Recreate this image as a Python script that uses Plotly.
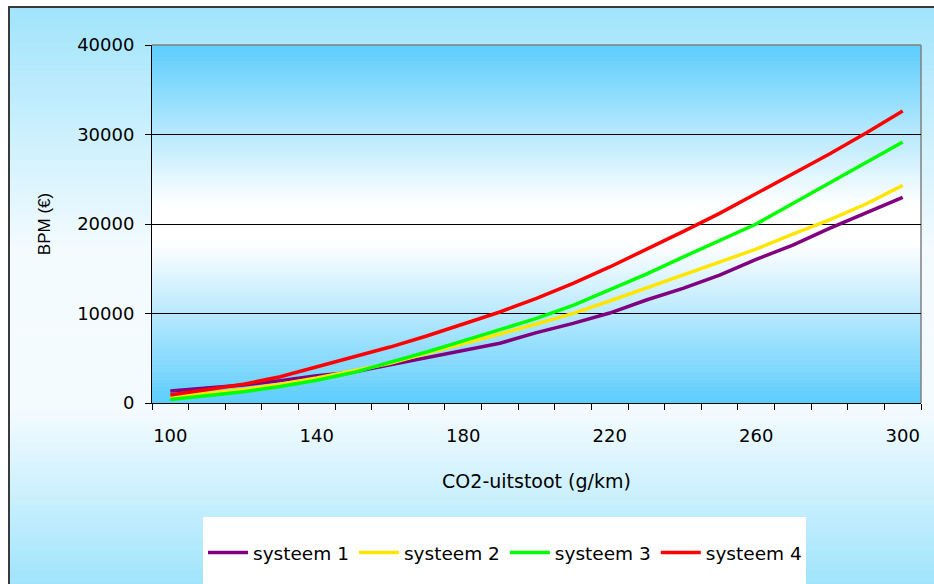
import plotly.graph_objects as go

# ---------------- data ----------------
co2 = [100, 110, 120, 130, 140, 150, 160, 170, 180, 190, 200,
       210, 220, 230, 240, 250, 260, 270, 280, 290, 300]
systeem_1 = [1340, 1650, 2000, 2500, 3050, 3450, 4250, 4990, 5850, 6670, 7860,
             8900, 10050, 11510, 12810, 14300, 16050, 17650, 19520, 21270, 22980]
systeem_2 = [650, 1050, 1500, 2100, 2800, 3600, 4430, 5550, 6590, 7710, 8830,
             10020, 11400, 12850, 14300, 15750, 17200, 18880, 20450, 22230, 24320]
systeem_3 = [400, 800, 1250, 1850, 2550, 3400, 4500, 5700, 6950, 8200, 9450,
             10900, 12650, 14400, 16300, 18170, 20000, 22300, 24600, 26870, 29160]
systeem_4 = [900, 1450, 2090, 2940, 4060, 5100, 6250, 7490, 8860, 10170, 11690,
             13370, 15200, 17130, 19140, 21190, 23390, 25620, 27820, 30170, 32630]

series_names = ["systeem 1", "systeem 2", "systeem 3", "systeem 4"]
series_values = [systeem_1, systeem_2, systeem_3, systeem_4]
series_colors = ["#800080", "#ffe600", "#00ff00", "#ff0000"]

x_tick_labels = [100, 140, 180, 220, 260, 300]
x_minor_ticks = [95 + 10 * i for i in range(22)]
y_ticks = [0, 10000, 20000, 30000, 40000]

x_title = "CO2-uitstoot (g/km)"
y_title = "BPM (€)"

# ---------------- layout geometry (pixels) ----------------
W, H = 934, 584
L, R, T, B = 152, 921, 45, 403


def px(X):
    return (X - L) / (R - L)


def py(Y):
    return (B - Y) / (B - T)


def mix(c1, c2, w):
    return "rgb(%d,%d,%d)" % tuple(round(a * (1 - w) + b * w) for a, b in zip(c1, c2))


shapes = []

# chart-area background gradient (blue - white - blue)
chart_blue = (160, 228, 252)
chart_white = (244, 251, 255)
y0, y1 = 7, 600
n = 120
for i in range(n):
    ya = y0 + (y1 - y0) * i / n
    yb = y0 + (y1 - y0) * (i + 1) / n
    ym = (ya + yb) / 2
    if ym < 250:
        w = min(1, (250 - ym) / 243)
    elif ym > 410:
        w = min(1, (ym - 410) / 174)
    else:
        w = 0
    shapes.append(dict(type="rect", xref="paper", yref="paper", layer="below",
                       x0=px(9), x1=px(940), y0=py(ya), y1=py(yb + 0.6),
                       fillcolor=mix(chart_white, chart_blue, w), line=dict(width=0)))

# chart-area border
shapes.append(dict(type="rect", xref="paper", yref="paper", layer="below",
                   x0=px(9), x1=px(940), y0=py(7), y1=py(600),
                   fillcolor="rgba(0,0,0,0)", line=dict(color="#3a3a3a", width=2)))

# plot-area gradient
plot_blue = (92, 205, 252)
white = (255, 255, 255)
n = 90
for i in range(n):
    ya = T + (B - T) * i / n
    yb = T + (B - T) * (i + 1) / n
    ym = (ya + yb) / 2
    d = abs(ym - (T + B) / 2)
    w = max(0, min(1, (d - 20) / 159))
    shapes.append(dict(type="rect", xref="paper", yref="paper", layer="below",
                       x0=0, x1=1, y0=py(ya), y1=py(min(B, yb + 0.6)),
                       fillcolor=mix(white, plot_blue, w), line=dict(width=0)))

# legend white box
shapes.append(dict(type="rect", xref="paper", yref="paper", layer="below",
                   x0=px(203), x1=px(806), y0=py(517), y1=py(600),
                   fillcolor="white", line=dict(width=0)))

# plot-area gray top / right border
shapes.append(dict(type="line", xref="paper", yref="paper", layer="between",
                   x0=0, x1=1, y0=1, y1=1, line=dict(color="#808080", width=1.5)))
shapes.append(dict(type="line", xref="paper", yref="paper", layer="between",
                   x0=1, x1=1, y0=0, y1=1, line=dict(color="#808080", width=1.5)))

fig = go.Figure()
for name, vals, col in zip(series_names, series_values, series_colors):
    fig.add_trace(go.Scatter(x=co2, y=vals, name=name, mode="lines",
                             line=dict(color=col, width=3.5), hoverinfo="skip"))

font_main = "DejaVu Sans"
fig.update_layout(
    width=W, height=H,
    margin=dict(l=L, r=W - R, t=T, b=H - B, pad=0),
    paper_bgcolor="white",
    plot_bgcolor="rgba(0,0,0,0)",
    shapes=shapes,
    showlegend=True,
    legend=dict(orientation="h", x=px(203), xanchor="left", y=py(553), yanchor="middle",
                bgcolor="rgba(0,0,0,0)", borderwidth=0, itemwidth=40,
                font=dict(family=font_main, size=18.5, color="black"),
                tracegroupgap=0),
    xaxis=dict(range=[95, 305], tickmode="array", tickvals=x_tick_labels,
               ticktext=[str(v) for v in x_tick_labels], ticks="",
               showgrid=False, zeroline=False, showline=True, linecolor="black", linewidth=1,
               tickfont=dict(family=font_main, size=18, color="black"),
               ticklabelstandoff=16,
               minor=dict(tickmode="array", tickvals=x_minor_ticks, ticks="outside",
                          ticklen=6, tickcolor="black", tickwidth=1, showgrid=False),
               title=dict(text=x_title, standoff=30,
                          font=dict(family=font_main, size=19, color="black"))),
    yaxis=dict(range=[0, 40000], tickmode="array", tickvals=y_ticks,
               ticktext=[str(v) for v in y_ticks], ticks="outside", ticklen=6,
               tickcolor="black", showgrid=True, gridcolor="black", gridwidth=1,
               zeroline=False, showline=True, linecolor="black", linewidth=1,
               tickfont=dict(family=font_main, size=18, color="black"),
               ticklabelstandoff=7,
               title=dict(text=y_title, standoff=22,
                          font=dict(family="Liberation Sans", size=17, color="black"))),
)

fig.write_html("out.html", config={"displayModeBar": False},
               post_script="document.body.style.margin='0';document.body.style.padding='0';")
